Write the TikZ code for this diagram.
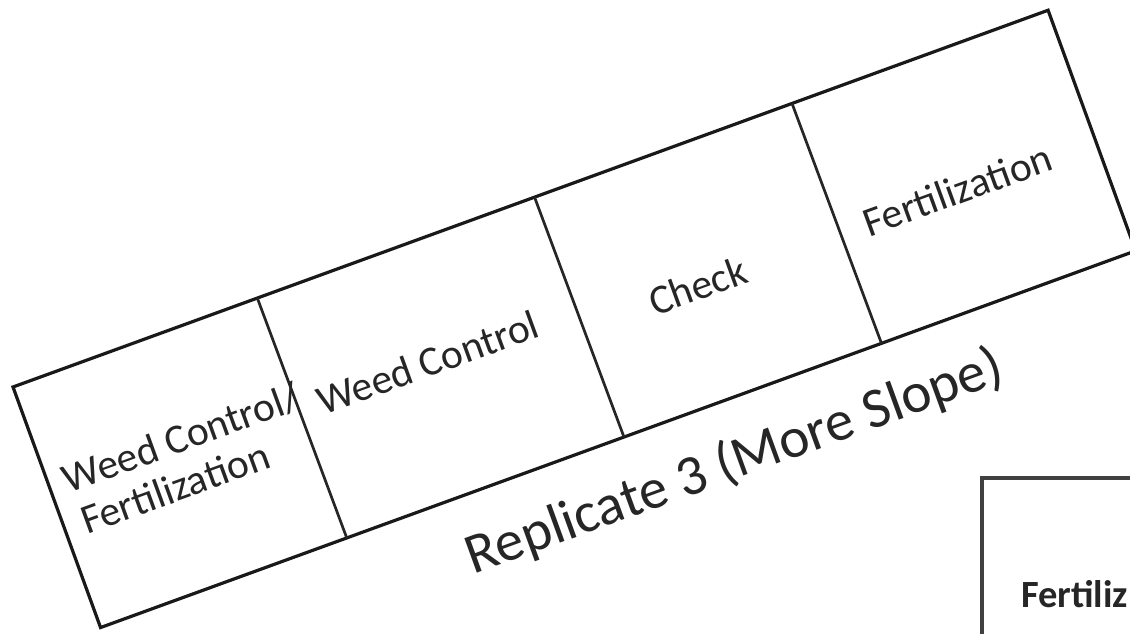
\documentclass[tikz,border=0pt]{standalone}
\usepackage{fontspec}
\setmainfont{Carlito}
\begin{document}
\begin{tikzpicture}[x=1pt,y=1pt,
  plotline/.style={line width=3.2pt, black!90, line join=miter},
  divline/.style={line width=2.7pt, black!85},
  plotlabel/.style={font=\fontsize{41.5}{47}\selectfont, text=black!85, inner sep=0pt},
  replabel/.style={font=\fontsize{57}{66}\selectfont, text=black!85, inner sep=0pt},
  boxline/.style={line width=3.2pt, black!75},
  boxlabel/.style={font=\bfseries\fontsize{38.5}{44}\selectfont, text=black!85, inner sep=0pt}]
\useasboundingbox (0,0) rectangle (1130,634);
\clip (0,0) rectangle (1130,634);
\fill[white] (0,0) rectangle (1130,634);
\begin{scope}[shift={(13,247)}, rotate=20, transform shape]
  \coordinate (tl) at (0,0);
  \coordinate (tr) at (1101.5,0);
  \coordinate (br) at (1101.5,-256);
  \coordinate (bl) at (0,-256);
  \coordinate (d1t) at (260,0);   \coordinate (d1b) at (262,-256);
  \coordinate (d2t) at (555,0);   \coordinate (d2b) at (557,-256);
  \coordinate (d3t) at (829,0);   \coordinate (d3b) at (831,-256);
  \draw[plotline] (tl) -- (tr) -- (br) -- (bl) -- cycle;
  \draw[divline] (d1t) -- (d1b);
  \draw[divline] (d2t) -- (d2b);
  \draw[divline] (d3t) -- (d3b);
  \node[plotlabel, anchor=base west] (wcf1) at (16,-119) {Weed Control/};
  \node[plotlabel, anchor=base west] (wcf2) at (19,-164) {Fertilization};
  \node[plotlabel, anchor=base] (wc) at (398,-133) {Weed Control};
  \node[plotlabel, anchor=base] (ck) at (678,-153) {Check};
  \node[plotlabel, anchor=base] (fz) at (955,-152) {Fertilization};
  \node[replabel, anchor=base] (rep) at (652,-334) {Replicate 3 (More Slope)};
\end{scope}
\coordinate (btl) at (982,156);
\coordinate (bbr) at (1160,-20);
\draw[boxline] (btl) rectangle (bbr);
\node[boxlabel, anchor=base west] (bf) at (1021,26) {Fertiliz};
\end{tikzpicture}
\end{document}
